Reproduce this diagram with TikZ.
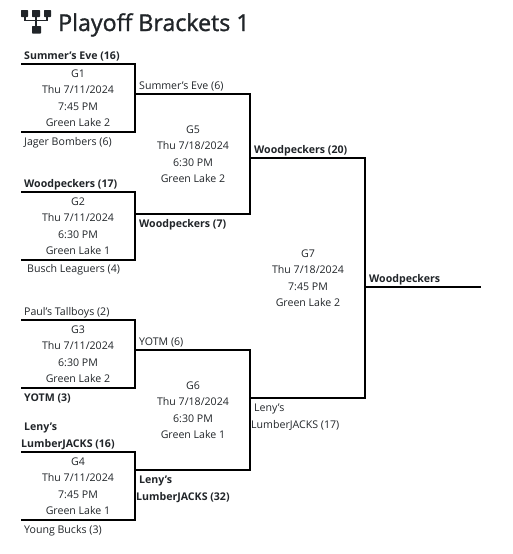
\documentclass[tikz,border=0pt]{standalone}
\usepackage{fontspec}
\setmainfont{Open Sans}
\newfontfamily\headfont[FakeBold=1.3]{Open Sans}
\definecolor{inkcol}{HTML}{212529}
\tikzset{
    lbl/.style={font=\fontsize{10.6}{16}\selectfont, text=inkcol, inner sep=0pt},
    win/.style={lbl, font=\fontsize{10.6}{16}\selectfont\bfseries},
    info/.style={lbl, align=center, font=\fontsize{10.6}{16.5}\selectfont},
    brk/.style={line width=2pt, black},
    blk/.style={fill=inkcol, rounded corners=0.6pt},
}
\begin{document}
\begin{tikzpicture}[x=1pt,y=-1pt]
    \useasboundingbox (0,0) rectangle (512,554);
    % heading
    \fill[blk] (21,10) rectangle (28,17);
    \fill[blk] (32,10) rectangle (40,17);
    \fill[blk] (44,10) rectangle (51,17);
    \draw[inkcol,line width=1.8pt] (36,17) -- (36,26) (25,17) -- (25,20.5) -- (47,20.5) -- (47,17);
    \fill[blk] (32,26) rectangle (41,33.5);
    \node[lbl,anchor=base west,font=\fontsize{23.2}{28}\headfont] (title) at (58,31) {Playoff Brackets 1};
    % first round
    \coordinate (g1a) at (21,64);
    \coordinate (g1b) at (135,64);
    \coordinate (g1c) at (135,132);
    \coordinate (g1d) at (21,132);
    \coordinate (g2a) at (21,192);
    \coordinate (g2b) at (135,192);
    \coordinate (g2c) at (135,260);
    \coordinate (g2d) at (21,260);
    \coordinate (g3a) at (21,320);
    \coordinate (g3b) at (135,320);
    \coordinate (g3c) at (135,388);
    \coordinate (g3d) at (21,388);
    \coordinate (g4a) at (21,452);
    \coordinate (g4b) at (135,452);
    \coordinate (g4c) at (135,520);
    \coordinate (g4d) at (21,520);
    % second round
    \coordinate (g5a) at (135,94);
    \coordinate (g5b) at (250,94);
    \coordinate (g5c) at (250,214);
    \coordinate (g5d) at (135,214);
    \coordinate (g6a) at (135,350);
    \coordinate (g6b) at (250,350);
    \coordinate (g6c) at (250,470);
    \coordinate (g6d) at (135,470);
    % final
    \coordinate (g7a) at (250,158);
    \coordinate (g7b) at (365,158);
    \coordinate (g7c) at (365,398);
    \coordinate (g7d) at (250,398);
    \coordinate (champ) at (481,287);
    \coordinate (champs) at (365,287);
    \draw[brk] (g1a) -- (g1b) -- (g1c) -- (g1d);
    \draw[brk] (g2a) -- (g2b) -- (g2c) -- (g2d);
    \draw[brk] (g3a) -- (g3b) -- (g3c) -- (g3d);
    \draw[brk] (g4a) -- (g4b) -- (g4c) -- (g4d);
    \draw[brk] (g5a) -- (g5b) -- (g5c) -- (g5d);
    \draw[brk] (g6a) -- (g6b) -- (g6c) -- (g6d);
    \draw[brk] (g7a) -- (g7b) -- (g7c) -- (g7d);
    \draw[brk] (champs) -- (champ);
    % game boxes
    \node[info] (g1) at (78,98) {G1\\Thu 7/11/2024\\7:45 PM\\Green Lake 2};
    \node[info] (g2) at (78,226) {G2\\Thu 7/11/2024\\6:30 PM\\Green Lake 1};
    \node[info] (g3) at (78,354) {G3\\Thu 7/11/2024\\6:30 PM\\Green Lake 2};
    \node[info] (g4) at (78,486) {G4\\Thu 7/11/2024\\7:45 PM\\Green Lake 1};
    \node[info] (g5) at (193,154) {G5\\Thu 7/18/2024\\6:30 PM\\Green Lake 2};
    \node[info] (g6) at (193,410) {G6\\Thu 7/18/2024\\6:30 PM\\Green Lake 1};
    \node[info] (g7) at (308,278) {G7\\Thu 7/18/2024\\7:45 PM\\Green Lake 2};
    % team names
    \node[win,anchor=base west] (t1) at (24,59) {Summer's Eve (16)};
    \node[lbl,anchor=base west] (t2) at (24,145) {Jager Bombers (6)};
    \node[win,anchor=base west] (t3) at (24,187) {Woodpeckers (17)};
    \node[lbl,anchor=base west] (t4) at (27,272) {Busch Leaguers (4)};
    \node[lbl,anchor=base west] (t5) at (24,315) {Paul's Tallboys (2)};
    \node[win,anchor=base west] (t6) at (24,401) {YOTM (3)};
    \node[win,anchor=base west] (t7) at (24,430) {Leny's};
    \node[win,anchor=base west] (t8) at (21,447) {LumberJACKS (16)};
    \node[lbl,anchor=base west] (t9) at (24,533) {Young Bucks (3)};
    \node[lbl,anchor=base west] (t10) at (139,89) {Summer's Eve (6)};
    \node[win,anchor=base west] (t11) at (139,227) {Woodpeckers (7)};
    \node[lbl,anchor=base west] (t12) at (139,345) {YOTM (6)};
    \node[win,anchor=base west] (t13) at (139,483) {Leny's};
    \node[win,anchor=base west] (t14) at (136,500) {LumberJACKS (32)};
    \node[win,anchor=base west] (t15) at (254,153) {Woodpeckers (20)};
    \node[lbl,anchor=base west] (t16) at (254,411) {Leny's};
    \node[lbl,anchor=base west] (t17) at (251,428) {LumberJACKS (17)};
    \node[win,anchor=base west] (t18) at (369,282) {Woodpeckers};
\end{tikzpicture}
\end{document}
